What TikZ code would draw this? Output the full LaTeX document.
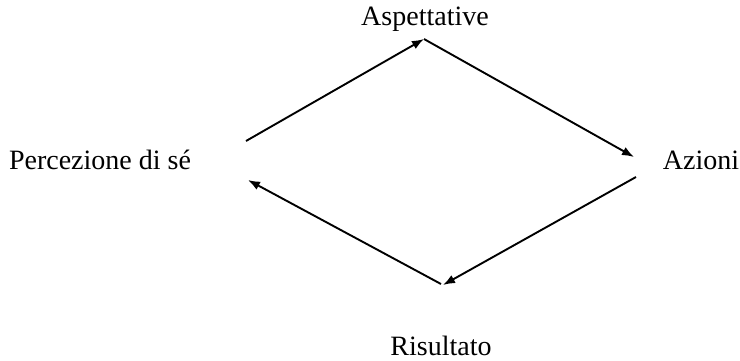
\documentclass[tikz,border=0pt]{standalone}
\usepackage{fontspec}
\setmainfont{Liberation Serif}
\usetikzlibrary{arrows.meta}
\begin{document}
\begin{tikzpicture}[x=0.5pt,y=-0.5pt,
  lbl/.style={font=\fontsize{14}{16}\selectfont, inner sep=0pt},
  arr/.style={line width=0.95pt, -{Latex[length=6pt,width=4.5pt]}}]
\useasboundingbox (0,0) rectangle (740,360);
\node[lbl] (asp) at (425,19) {Aspettative};
\node[lbl] (per) at (100,160) {Percezione di sé};
\node[lbl] (azi) at (701,160) {Azioni};
\node[lbl] (ris) at (441,346) {Risultato};
\coordinate (p1) at (246,141);
\coordinate (a1) at (424,39);
\coordinate (z1) at (634,157);
\coordinate (z2) at (636,177);
\coordinate (r1) at (443,285);
\coordinate (r2) at (441,284);
\coordinate (p2) at (248,180);
\draw[arr] (p1) -- (a1);
\draw[arr] (a1) -- (z1);
\draw[arr] (z2) -- (r1);
\draw[arr] (r2) -- (p2);
\end{tikzpicture}
\end{document}
